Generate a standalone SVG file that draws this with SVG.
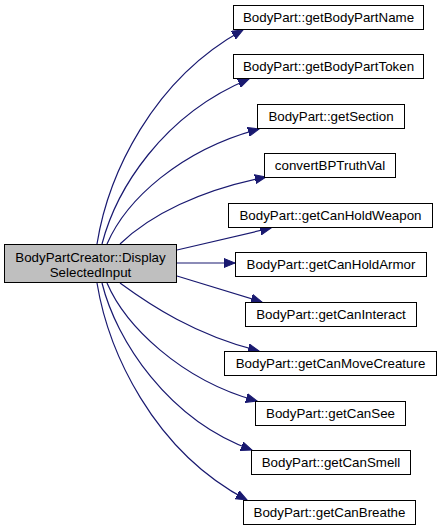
<svg xmlns="http://www.w3.org/2000/svg" width="441" height="529" viewBox="0 0 441 529">
<style>
.n rect{fill:#fff;stroke:#000;stroke-width:1}
.n.root rect{fill:#bfbfbf}
text{font-family:"Liberation Sans",Arial,sans-serif;font-size:13.33px;fill:#000;text-anchor:middle}
.e path{fill:none;stroke:#191970;stroke-width:1.2;marker-end:url(#ah)}
</style>
<defs>
<marker id="ah" markerUnits="userSpaceOnUse" markerWidth="12" markerHeight="10" viewBox="0 0 12 10" refX="11" refY="5" orient="auto">
<path d="M0,0.5 L11,5 L0,9.5 Z" fill="#191970" stroke="#191970"/>
</marker>
</defs>
<rect width="441" height="529" fill="#fff"/>
<g class="e" id="edges">
<path d="M97,244 C108,175 152,80 243,30"/>
<path d="M102,244 C116,190 162,115 249,79"/>
<path d="M107,244 C126,200 180,150 259,129"/>
<path d="M120,244 C150,215 200,190 266,177"/>
<path d="M177,250 L271,228"/>
<path d="M177,263 L235,263"/>
<path d="M177,276 L262,302"/>
<path d="M120,283 C150,305 195,335 259,351"/>
<path d="M107,283 C125,325 180,380 257,401"/>
<path d="M102,283 C116,340 168,420 252,450"/>
<path d="M97,283 C108,350 152,450 247,500"/>
</g>
<g class="n root" id="node_root"><rect x="4.5" y="244.5" width="172" height="38"/><text x="90.5" y="262">BodyPartCreator::Display</text><text x="90.5" y="276.5">SelectedInput</text></g>
<g class="n" id="node_getBodyPartName"><rect x="233.5" y="5.5" width="190" height="24"/><text x="328.5" y="22">BodyPart::getBodyPartName</text></g>
<g class="n" id="node_getBodyPartToken"><rect x="233.5" y="54.5" width="190" height="24"/><text x="328.5" y="71">BodyPart::getBodyPartToken</text></g>
<g class="n" id="node_getSection"><rect x="257.5" y="104.5" width="147" height="24"/><text x="331" y="121">BodyPart::getSection</text></g>
<g class="n" id="node_convertBPTruthVal"><rect x="264.5" y="153.5" width="131" height="24"/><text x="330" y="170">convertBPTruthVal</text></g>
<g class="n" id="node_getCanHoldWeapon"><rect x="228.5" y="203.5" width="204" height="24"/><text x="330.5" y="220">BodyPart::getCanHoldWeapon</text></g>
<g class="n" id="node_getCanHoldArmor"><rect x="235.5" y="252.5" width="191" height="24"/><text x="331" y="269">BodyPart::getCanHoldArmor</text></g>
<g class="n" id="node_getCanInteract"><rect x="245.5" y="302.5" width="171" height="24"/><text x="331" y="319">BodyPart::getCanInteract</text></g>
<g class="n" id="node_getCanMoveCreature"><rect x="224.5" y="351.5" width="212" height="24"/><text x="330.5" y="368">BodyPart::getCanMoveCreature</text></g>
<g class="n" id="node_getCanSee"><rect x="255.5" y="401.5" width="150" height="24"/><text x="330.5" y="418">BodyPart::getCanSee</text></g>
<g class="n" id="node_getCanSmell"><rect x="251.5" y="450.5" width="159" height="24"/><text x="331" y="467">BodyPart::getCanSmell</text></g>
<g class="n" id="node_getCanBreathe"><rect x="243.5" y="500.5" width="172" height="24"/><text x="329.5" y="517">BodyPart::getCanBreathe</text></g>
</svg>
